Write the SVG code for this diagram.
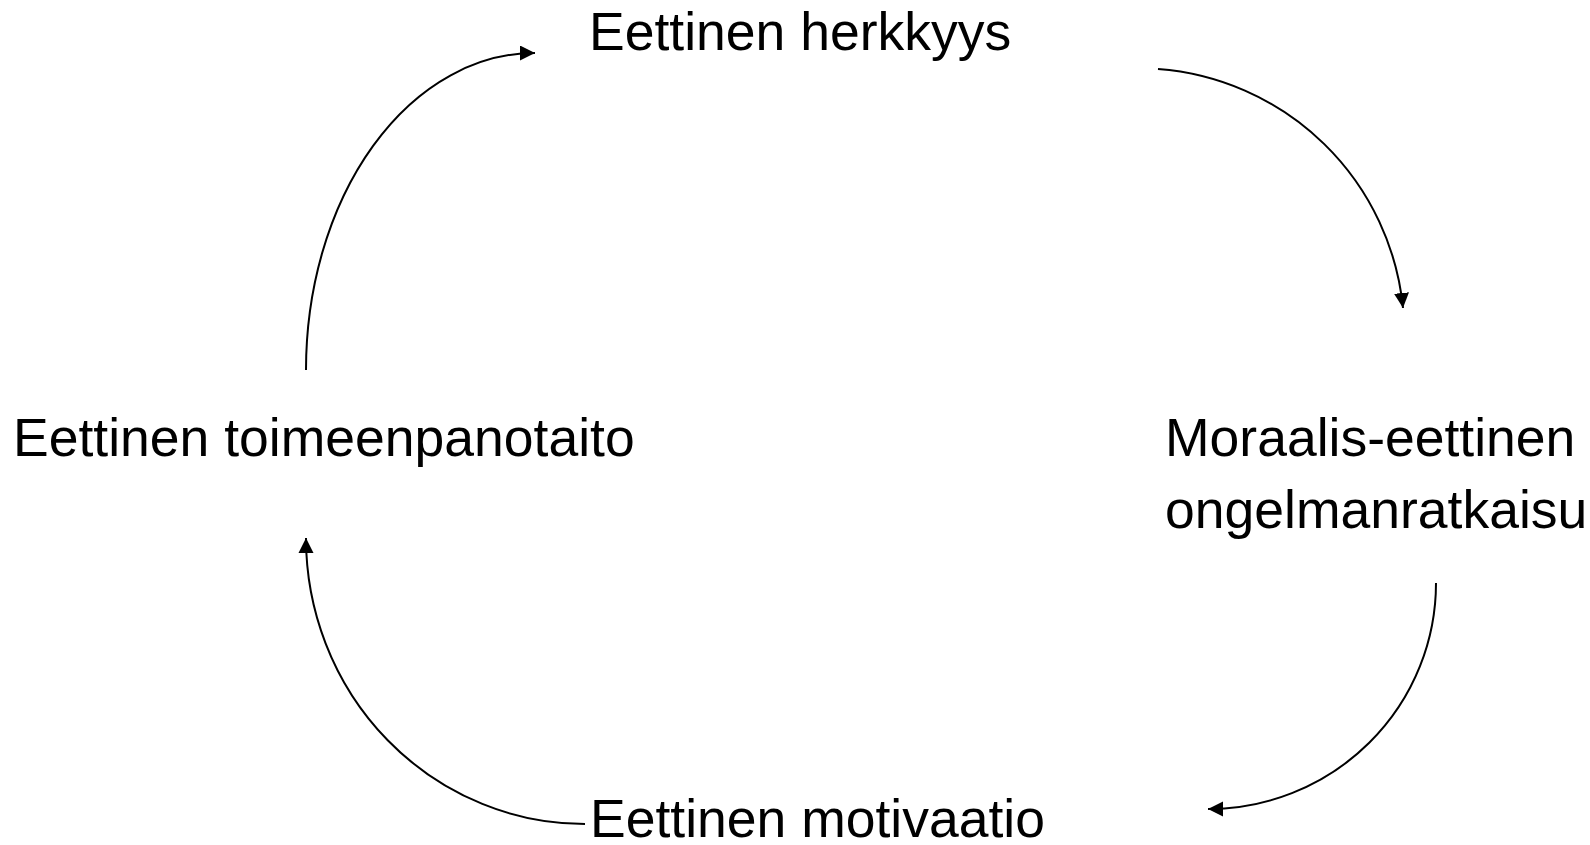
<svg xmlns="http://www.w3.org/2000/svg" width="1590" height="845" viewBox="0 0 1590 845">
<style>
.lbl{font-family:"Liberation Sans",Arial,sans-serif;font-size:53.5px;fill:#000}
.con{fill:none;stroke:#000;stroke-width:2}
</style>
<defs>
<marker id="ah" markerUnits="userSpaceOnUse" markerWidth="16" markerHeight="16" refX="15" refY="7.5" orient="auto">
<path d="M0,0 L15,7.5 L0,15 z" fill="#000"/>
</marker>
</defs>
<rect width="1590" height="845" fill="#fff"/>
<g id="connectors">
<path class="con" d="M306,370 A229,317 0 0 1 535,53" marker-end="url(#ah)"/>
<path class="con" d="M1158,69 A266,266 0 0 1 1403,308" marker-end="url(#ah)"/>
<path class="con" d="M1436,583 A228,226 0 0 1 1208,809" marker-end="url(#ah)"/>
<path class="con" d="M585,824 A279,286 0 0 1 306,538" marker-end="url(#ah)"/>
</g>
<g id="node-herkkyys"><text class="lbl" x="589" y="50">Eettinen herkkyys</text></g>
<g id="node-ongelmanratkaisu"><text class="lbl" x="1165" y="456">Moraalis-eettinen</text><text class="lbl" x="1165" y="528">ongelmanratkaisu</text></g>
<g id="node-motivaatio"><text class="lbl" x="590" y="837">Eettinen motivaatio</text></g>
<g id="node-toimeenpanotaito"><text class="lbl" x="13" y="456">Eettinen toimeenpanotaito</text></g>
</svg>
